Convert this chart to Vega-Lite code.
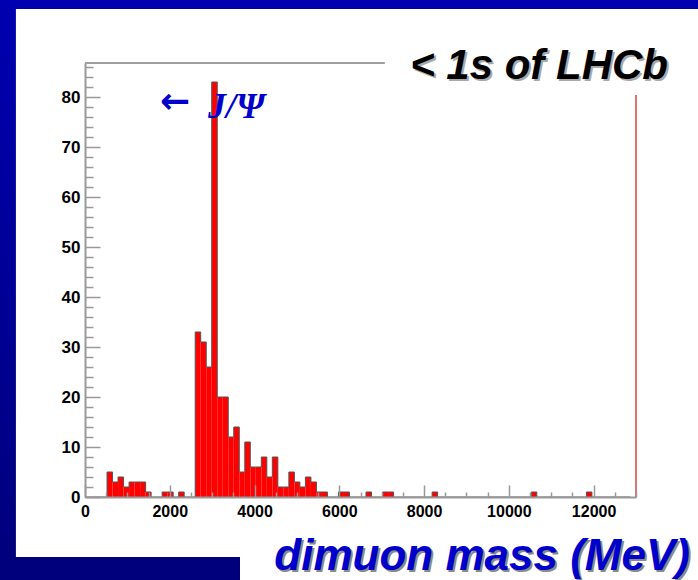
{
  "$schema": "https://vega.github.io/schema/vega-lite/v6.json",
  "width": 551,
  "height": 434,
  "autosize": {"type": "none"},
  "padding": {"left": 85, "top": 63, "right": 62, "bottom": 83},
  "background": "#000090",
  "view": {"stroke": null},
  "config": {"font": "Liberation Sans"},
  "resolve": {"axis": {"x": "independent", "y": "independent"}},
  "datasets": {
    "one": [{}],
    "hist": [
    {"lo":0,"hi":130,"n":0},{"lo":130,"hi":260,"n":0},{"lo":260,"hi":390,"n":0},{"lo":390,"hi":520,"n":0},{"lo":520,"hi":650,"n":5},
    {"lo":650,"hi":780,"n":3},{"lo":780,"hi":910,"n":4},{"lo":910,"hi":1040,"n":2},{"lo":1040,"hi":1170,"n":3},{"lo":1170,"hi":1300,"n":3},
    {"lo":1300,"hi":1430,"n":3},{"lo":1430,"hi":1560,"n":1},{"lo":1560,"hi":1690,"n":0},{"lo":1690,"hi":1820,"n":0},{"lo":1820,"hi":1950,"n":1},
    {"lo":1950,"hi":2080,"n":1},{"lo":2080,"hi":2210,"n":0},{"lo":2210,"hi":2340,"n":1},{"lo":2340,"hi":2470,"n":0},{"lo":2470,"hi":2600,"n":0},
    {"lo":2600,"hi":2730,"n":33},{"lo":2730,"hi":2860,"n":31},{"lo":2860,"hi":2990,"n":26},{"lo":2990,"hi":3120,"n":83},{"lo":3120,"hi":3250,"n":20},
    {"lo":3250,"hi":3380,"n":20},{"lo":3380,"hi":3510,"n":12},{"lo":3510,"hi":3640,"n":14},{"lo":3640,"hi":3770,"n":5},{"lo":3770,"hi":3900,"n":11},
    {"lo":3900,"hi":4030,"n":6},{"lo":4030,"hi":4160,"n":6},{"lo":4160,"hi":4290,"n":8},{"lo":4290,"hi":4420,"n":4},{"lo":4420,"hi":4550,"n":8},
    {"lo":4550,"hi":4680,"n":2},{"lo":4680,"hi":4810,"n":2},{"lo":4810,"hi":4940,"n":5},{"lo":4940,"hi":5070,"n":3},{"lo":5070,"hi":5200,"n":2},
    {"lo":5200,"hi":5330,"n":4},{"lo":5330,"hi":5460,"n":3},{"lo":5460,"hi":5590,"n":1},{"lo":5590,"hi":5720,"n":1},{"lo":5720,"hi":5850,"n":0},
    {"lo":5850,"hi":5980,"n":0},{"lo":5980,"hi":6110,"n":1},{"lo":6110,"hi":6240,"n":1},{"lo":6240,"hi":6370,"n":0},{"lo":6370,"hi":6500,"n":0},
    {"lo":6500,"hi":6630,"n":0},{"lo":6630,"hi":6760,"n":1},{"lo":6760,"hi":6890,"n":0},{"lo":6890,"hi":7020,"n":0},{"lo":7020,"hi":7150,"n":1},
    {"lo":7150,"hi":7280,"n":1},{"lo":7280,"hi":7410,"n":0},{"lo":7410,"hi":7540,"n":0},{"lo":7540,"hi":7670,"n":0},{"lo":7670,"hi":7800,"n":0},
    {"lo":7800,"hi":7930,"n":0},{"lo":7930,"hi":8060,"n":0},{"lo":8060,"hi":8190,"n":0},{"lo":8190,"hi":8320,"n":1},{"lo":8320,"hi":8450,"n":0},
    {"lo":8450,"hi":8580,"n":0},{"lo":8580,"hi":8710,"n":0},{"lo":8710,"hi":8840,"n":0},{"lo":8840,"hi":8970,"n":0},{"lo":8970,"hi":9100,"n":0},
    {"lo":9100,"hi":9230,"n":0},{"lo":9230,"hi":9360,"n":0},{"lo":9360,"hi":9490,"n":0},{"lo":9490,"hi":9620,"n":0},{"lo":9620,"hi":9750,"n":0},
    {"lo":9750,"hi":9880,"n":0},{"lo":9880,"hi":10010,"n":0},{"lo":10010,"hi":10140,"n":0},{"lo":10140,"hi":10270,"n":0},{"lo":10270,"hi":10400,"n":0},
    {"lo":10400,"hi":10530,"n":0},{"lo":10530,"hi":10660,"n":1},{"lo":10660,"hi":10790,"n":0},{"lo":10790,"hi":10920,"n":0},{"lo":10920,"hi":11050,"n":0},
    {"lo":11050,"hi":11180,"n":0},{"lo":11180,"hi":11310,"n":0},{"lo":11310,"hi":11440,"n":0},{"lo":11440,"hi":11570,"n":0},{"lo":11570,"hi":11700,"n":0},
    {"lo":11700,"hi":11830,"n":0},{"lo":11830,"hi":11960,"n":1},{"lo":11960,"hi":12090,"n":0},{"lo":12090,"hi":12220,"n":0},{"lo":12220,"hi":12350,"n":0},
    {"lo":12350,"hi":12480,"n":0},{"lo":12480,"hi":12610,"n":0},{"lo":12610,"hi":12740,"n":0},{"lo":12740,"hi":12870,"n":0},{"lo":12870,"hi":13000,"n":0}
    ]
  },
  "layer": [
    {
      "data": {"name": "one"},
      "mark": {"type": "rect", "clip": false, "fill": {"gradient": "linear", "x1": 0, "y1": 0, "x2": 0, "y2": 1, "stops": [{"offset": 0, "color": "#0000b8"}, {"offset": 1, "color": "#00007a"}]}},
      "encoding": {
        "x": {"datum": -2200, "type": "quantitative", "axis": null},
        "x2": {"datum": 15000},
        "y": {"datum": 115, "type": "quantitative", "axis": null},
        "y2": {"datum": -20}
      }
    },
    {
      "data": {"name": "one"},
      "mark": {"type": "rect", "clip": false, "fill": "white"},
      "encoding": {
        "x": {"datum": -1630, "type": "quantitative", "axis": null},
        "x2": {"datum": 15000},
        "y": {"datum": 97.6, "type": "quantitative", "axis": null},
        "y2": {"datum": -12}
      }
    },
    {
      "data": {"name": "one"},
      "mark": {"type": "rect", "clip": false, "fill": "white"},
      "encoding": {
        "x": {"datum": 3657, "type": "quantitative", "axis": null},
        "x2": {"datum": 15000},
        "y": {"datum": -4, "type": "quantitative", "axis": null},
        "y2": {"datum": -20}
      }
    },
    {
      "data": {"name": "hist"},
      "mark": {"type": "bar", "fill": "#ff0000", "strokeWidth": 0},
      "encoding": {
        "x": {"field": "lo", "type": "quantitative", "title": null,
          "scale": {"domain": [0, 13000], "nice": false, "zero": false},
          "axis": {
            "orient": "bottom",
            "values": [0,2000,4000,6000,8000,10000,12000],
            "tickSize": -12,
            "format": "d",
            "labelPadding": 18,
            "labelFont": "Liberation Sans", "labelFontWeight": "bold", "labelFontSize": 16, "labelColor": "black",
            "tickColor": "#999999", "tickWidth": 1.5, "domainColor": "#999999", "domainWidth": 2,
            "grid": false, "labelOverlap": false, "labelFlush": false, "zindex": 2
          }},
        "x2": {"field": "hi"},
        "y": {"field": "n", "type": "quantitative", "title": null,
          "scale": {"domain": [0, 86.8], "nice": false, "zero": false},
          "axis": {
            "orient": "left",
            "values": [0,10,20,30,40,50,60,70,80],
            "tickSize": -15,
            "labelPadding": 20,
            "labelFont": "Liberation Sans", "labelFontWeight": "bold", "labelFontSize": 17, "labelColor": "black",
            "tickColor": "#999999", "tickWidth": 1.5, "domainColor": "#999999", "domainWidth": 2,
            "grid": false, "labelOverlap": false, "labelFlush": false, "zindex": 2
          }},
        "y2": {"datum": 0}
      }
    },
    {
      "data": {"name": "hist"},
      "mark": {"type": "line", "interpolate": "step-after", "color": "#555555", "strokeWidth": 1},
      "encoding": {
        "x": {"field": "lo", "type": "quantitative", "title": null,
          "axis": {
            "orient": "bottom",
            "values": [500,1000,1500,2500,3000,3500,4500,5000,5500,6500,7000,7500,8500,9000,9500,10500,11000,11500,12500,13000],
            "tickSize": -5, "labels": false, "domain": false, "grid": false,
            "tickColor": "#999999", "tickWidth": 1.5, "zindex": 2
          }},
        "y": {"field": "n", "type": "quantitative", "title": null,
          "axis": {
            "orient": "left",
            "values": [2,4,6,8,12,14,16,18,22,24,26,28,32,34,36,38,42,44,46,48,52,54,56,58,62,64,66,68,72,74,76,78,82,84,86],
            "tickSize": -8, "labels": false, "domain": false, "grid": false,
            "tickColor": "#999999", "tickWidth": 1.5, "zindex": 2
          }}
      }
    },
    {
      "data": {"name": "one"},
      "mark": {"type": "rule", "color": "#a0a0a0", "strokeWidth": 2},
      "encoding": {
        "x": {"datum": 0, "type": "quantitative", "axis": null},
        "x2": {"datum": 7075},
        "y": {"datum": 86.8, "type": "quantitative", "axis": null}
      }
    },
    {
      "data": {"name": "one"},
      "mark": {"type": "rule", "color": "#d04545", "strokeWidth": 1.5},
      "encoding": {
        "x": {"datum": 13000, "type": "quantitative", "axis": null},
        "y": {"datum": 0, "type": "quantitative", "axis": null},
        "y2": {"datum": 80.4}
      }
    },
    {
      "data": {"name": "one"},
      "mark": {"type": "text", "text": "< 1s of LHCb", "align": "right", "baseline": "alphabetic", "font": "Liberation Sans", "fontSize": 42, "fontWeight": "bold", "fontStyle": "italic", "fill": "#a8a8a8", "dx": 2, "dy": 2, "clip": false},
      "encoding": {
        "x": {"datum": 13755, "type": "quantitative", "axis": null},
        "y": {"datum": 83.6, "type": "quantitative", "axis": null}
      }
    },
    {
      "data": {"name": "one"},
      "mark": {"type": "text", "text": "< 1s of LHCb", "align": "right", "baseline": "alphabetic", "font": "Liberation Sans", "fontSize": 42, "fontWeight": "bold", "fontStyle": "italic", "fill": "#000000", "clip": false},
      "encoding": {
        "x": {"datum": 13755, "type": "quantitative", "axis": null},
        "y": {"datum": 83.6, "type": "quantitative", "axis": null}
      }
    },
    {
      "data": {"name": "one"},
      "mark": {"type": "text", "text": "←", "align": "center", "baseline": "middle", "font": "DejaVu Sans", "fontSize": 36, "fontWeight": "bold", "fill": "#0000cc"},
      "encoding": {
        "x": {"datum": 2124, "type": "quantitative", "axis": null},
        "y": {"datum": 79.0, "type": "quantitative", "axis": null}
      }
    },
    {
      "data": {"name": "one"},
      "mark": {"type": "text", "text": "J/Ψ", "align": "left", "baseline": "alphabetic", "font": "Liberation Serif", "fontSize": 36, "fontWeight": "bold", "fontStyle": "italic", "fill": "#0000cc"},
      "encoding": {
        "x": {"datum": 2902, "type": "quantitative", "axis": null},
        "y": {"datum": 75.8, "type": "quantitative", "axis": null}
      }
    },
    {
      "data": {"name": "one"},
      "mark": {"type": "text", "text": "dimuon mass (MeV)", "align": "right", "baseline": "alphabetic", "font": "Liberation Sans", "fontSize": 44, "fontWeight": "bold", "fontStyle": "italic", "fill": "#8a8a8a", "dx": 2, "dy": 2, "clip": false},
      "encoding": {
        "x": {"datum": 14274, "type": "quantitative", "axis": null},
        "y": {"datum": -14.6, "type": "quantitative", "axis": null}
      }
    },
    {
      "data": {"name": "one"},
      "mark": {"type": "text", "text": "dimuon mass (MeV)", "align": "right", "baseline": "alphabetic", "font": "Liberation Sans", "fontSize": 44, "fontWeight": "bold", "fontStyle": "italic", "fill": "#0000cc", "clip": false},
      "encoding": {
        "x": {"datum": 14274, "type": "quantitative", "axis": null},
        "y": {"datum": -14.6, "type": "quantitative", "axis": null}
      }
    }
  ]
}
